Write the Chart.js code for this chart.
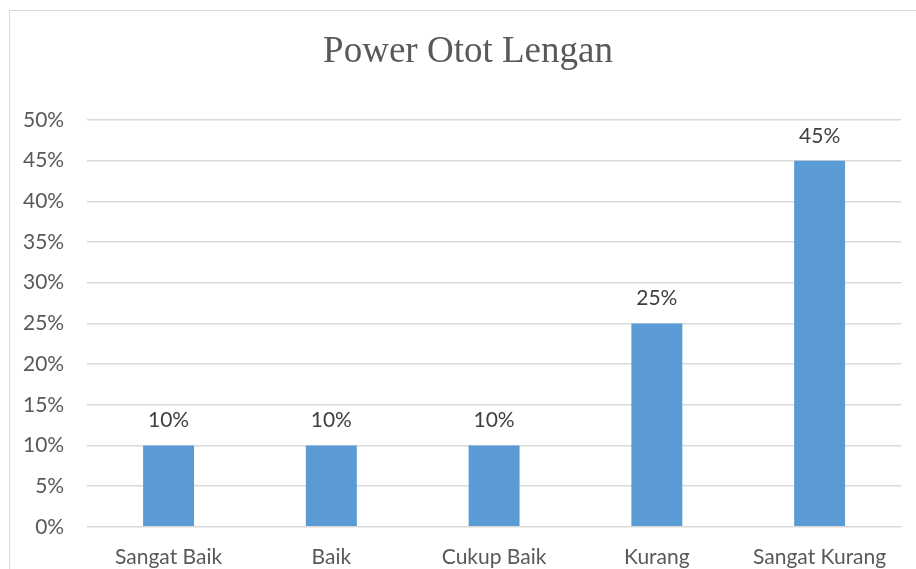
<!DOCTYPE html>
<html>
<head>
<meta charset="utf-8">
<script src="https://cdn.jsdelivr.net/npm/chart.js@4"></script>
<style>
  html, body { margin: 0; padding: 0; background: #fff; overflow: hidden; }
  #box { position: absolute; left: 9px; top: 10px; width: 940px; height: 580px; border: 1px solid #d9d9d9; }
  #powerChart { position: absolute; left: -10px; top: 0; }
</style>
</head>
<body>
<div id="box"><canvas id="powerChart" width="940" height="580"></canvas></div>
<script>
// Data kategori dan persentase
const chartTitle = 'Power Otot Lengan';
const categories = ['Sangat Baik', 'Baik', 'Cukup Baik', 'Kurang', 'Sangat Kurang'];
const percentValues = [10, 10, 10, 25, 45];
const yTicks = [0, 5, 10, 15, 20, 25, 30, 35, 40, 45, 50];

// Judul digambar sendiri supaya posisinya di tengah bingkai
const titlePlugin = {
    id: 'titlePlugin',
    afterDraw(chart) {
        const ctx = chart.ctx;
        ctx.save();
        ctx.font = '37px "Liberation Serif"';
        ctx.fillStyle = '#595959';
        ctx.textAlign = 'center';
        ctx.textBaseline = 'alphabetic';
        ctx.fillText(chartTitle, 468, 51);
        ctx.restore();
    }
};

// Plugin kecil untuk label nilai di atas batang
const valueLabels = {
    id: 'valueLabels',
    afterDatasetsDraw(chart) {
        const ctx = chart.ctx;
        ctx.save();
        ctx.font = '21px Lato';
        ctx.fillStyle = '#404040';
        ctx.textAlign = 'center';
        ctx.textBaseline = 'alphabetic';
        chart.getDatasetMeta(0).data.forEach((bar, i) => {
            ctx.fillText(percentValues[i] + '%', bar.x, bar.y - 18);
        });
        ctx.restore();
    }
};

const ctx = document.getElementById('powerChart').getContext('2d');
new Chart(ctx, {
    type: 'bar',
    data: {
        labels: categories,
        datasets: [{
            data: percentValues,
            backgroundColor: '#5b9bd5',
            barPercentage: 0.313,
            categoryPercentage: 1
        }]
    },
    options: {
        responsive: false,
        animation: false,
        layout: { padding: { left: 0, right: 39, top: 109, bottom: 3 } },
        plugins: {
            legend: { display: false },
            tooltip: { enabled: false },
            title: { display: false }
        },
        scales: {
            x: {
                grid: { display: false, drawTicks: false },
                border: { display: false },
                ticks: { color: '#595959', font: { family: 'Lato', size: 21 }, padding: 18 }
            },
            y: {
                min: 0,
                max: 50,
                afterBuildTicks(axis) { axis.ticks = yTicks.map(v => ({ value: v })); },
                grid: { color: '#d9d9d9', lineWidth: 1.5, drawTicks: false },
                border: { display: false },
                ticks: {
                    color: '#595959',
                    font: { family: 'Lato', size: 21 },
                    padding: 23,
                    callback: v => v + '%'
                }
            }
        }
    },
    plugins: [valueLabels, titlePlugin]
});
</script>
</body>
</html>
